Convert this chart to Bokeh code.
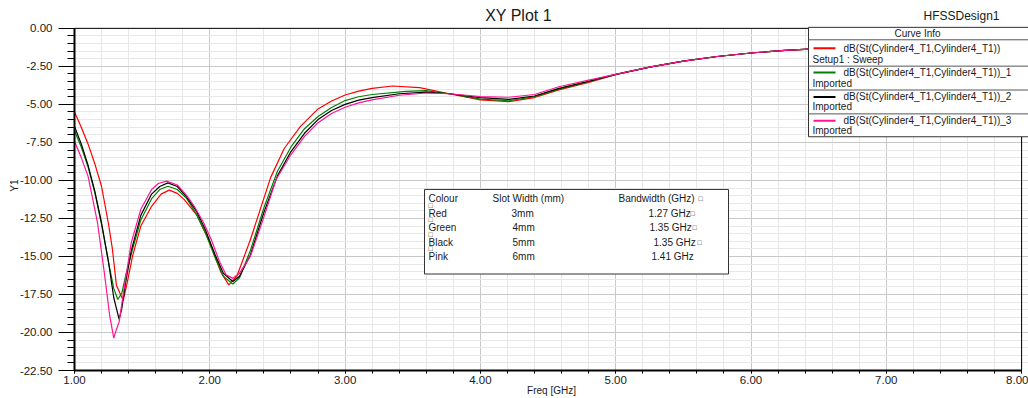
from math import pi
from bokeh.plotting import figure
from bokeh.models import (Range1d, SingleIntervalTicker, PrintfTickFormatter, Label)
from bokeh.embed import file_html
from bokeh.resources import INLINE

# ---------------- data ----------------
red_f = [1.00, 1.05, 1.10, 1.15, 1.20, 1.25, 1.28, 1.31, 1.36, 1.39, 1.43, 1.49, 1.57, 1.64, 1.70,
         1.76, 1.81, 1.91, 2.01, 2.08, 2.14, 2.20, 2.30, 2.45, 2.55, 2.67, 2.80, 2.90, 3.00, 3.10,
         3.20, 3.35, 3.55, 3.77, 4.00, 4.21, 4.40, 4.58, 4.80, 5.00, 5.25, 5.50, 5.75, 6.00, 6.25,
         6.50, 7.00, 7.50, 8.00]
red_v = [-5.5, -6.5, -7.6, -8.9, -10.4, -12.8, -14.5, -16.9, -17.9, -16.7, -14.95, -13.0, -11.7, -10.9, -10.64,
         -10.85, -11.25, -12.35, -14.3, -16.0, -16.87, -16.3, -13.9, -9.8, -7.9, -6.45, -5.3, -4.78, -4.38, -4.13,
         -3.95, -3.79, -3.9, -4.3, -4.7, -4.82, -4.55, -4.05, -3.55, -3.05, -2.55, -2.15, -1.85, -1.62, -1.45,
         -1.33, -1.2, -1.1, -1.05]

green_f = [1.00, 1.05, 1.10, 1.15, 1.20, 1.25, 1.29, 1.32, 1.35, 1.38, 1.43, 1.49, 1.57, 1.63, 1.69,
           1.76, 1.83, 1.90, 1.97, 2.04, 2.10, 2.17, 2.22, 2.30, 2.40, 2.50, 2.60, 2.70, 2.80, 2.90,
           3.00, 3.10, 3.20, 3.45, 3.60, 3.77, 4.00, 4.21, 4.40, 4.58, 4.80, 5.00, 5.25, 5.50, 5.75,
           6.00, 6.25, 6.50, 7.00, 7.50, 8.00]
green_v = [-6.75, -7.8, -9.1, -10.8, -12.9, -15.3, -17.1, -17.83, -17.4, -16.2, -14.5, -12.6, -11.2, -10.6, -10.38,
           -10.6, -11.2, -12.2, -13.5, -15.1, -16.3, -16.81, -16.4, -14.6, -11.8, -9.4, -7.8, -6.6, -5.8, -5.2,
           -4.75, -4.5, -4.35, -4.15, -4.1, -4.3, -4.65, -4.76, -4.5, -4.0, -3.5, -3.03, -2.55, -2.15, -1.85,
           -1.62, -1.45, -1.33, -1.2, -1.1, -1.05]

black_f = [1.00, 1.05, 1.10, 1.15, 1.20, 1.25, 1.29, 1.33, 1.35, 1.38, 1.42, 1.49, 1.57, 1.63, 1.69,
           1.76, 1.83, 1.90, 1.97, 2.04, 2.10, 2.17, 2.22, 2.30, 2.40, 2.50, 2.60, 2.70, 2.80, 2.90,
           3.00, 3.10, 3.20, 3.40, 3.60, 3.77, 4.00, 4.21, 4.40, 4.58, 4.80, 5.00, 5.25, 5.50, 5.75,
           6.00, 6.25, 6.50, 7.00, 7.50, 8.00]
black_v = [-6.45, -7.6, -9.0, -10.7, -12.8, -15.3, -17.7, -19.14, -18.4, -16.6, -14.6, -12.3, -10.9, -10.4, -10.16,
           -10.4, -11.1, -12.0, -13.3, -14.9, -16.1, -16.65, -16.3, -14.9, -12.1, -9.7, -8.1, -6.9, -6.0, -5.4,
           -5.0, -4.72, -4.55, -4.3, -4.2, -4.3, -4.55, -4.67, -4.45, -3.95, -3.48, -3.03, -2.55, -2.15, -1.85,
           -1.62, -1.45, -1.33, -1.2, -1.1, -1.05]

pink_f = [1.00, 1.05, 1.10, 1.17, 1.22, 1.26, 1.29, 1.31, 1.33, 1.37, 1.42, 1.49, 1.57, 1.62, 1.68,
          1.76, 1.83, 1.885, 1.95, 2.01, 2.07, 2.12, 2.17, 2.22, 2.30, 2.40, 2.49, 2.60, 2.70, 2.80,
          2.90, 3.00, 3.10, 3.20, 3.40, 3.60, 3.77, 4.00, 4.21, 4.40, 4.58, 4.80, 5.00, 5.25, 5.50,
          5.75, 6.00, 6.25, 6.50, 7.00, 7.50, 8.00]
pink_v = [-7.43, -8.5, -9.72, -12.77, -16.04, -18.88, -20.36, -19.8, -19.3, -16.9, -14.08, -11.9, -10.6, -10.2, -10.05,
          -10.3, -11.0, -11.7, -12.7, -13.87, -15.3, -16.2, -16.44, -16.1, -15.0, -12.4, -9.94, -8.3, -7.1, -6.2,
          -5.6, -5.19, -4.9, -4.7, -4.4, -4.25, -4.3, -4.49, -4.53, -4.35, -3.84, -3.4, -3.03, -2.55, -2.15,
          -1.85, -1.62, -1.45, -1.33, -1.2, -1.1, -1.05]

curve_names = ["dB(St(Cylinder4_T1,Cylinder4_T1))",
               "dB(St(Cylinder4_T1,Cylinder4_T1))_1",
               "dB(St(Cylinder4_T1,Cylinder4_T1))_2",
               "dB(St(Cylinder4_T1,Cylinder4_T1))_3"]
curve_sources = ["Setup1 : Sweep", "Imported", "Imported", "Imported"]
curve_colors = ["#ff0000", "#008000", "#000000", "#ff1493"]

table_header = ["Colour", "Slot Width (mm)", "Bandwidth (GHz)"]
table_colour = ["Red", "Green", "Black", "Pink"]
table_width = ["3mm", "4mm", "5mm", "6mm"]
table_bw = ["1.27 GHz", "1.35 GHz", "1.35 GHz", "1.41 GHz"]

# ---------------- layout ----------------
W, H = 1028, 398
L, B = 74, 26
PXG = 135.3      # px per GHz
PYU = 15.29      # px per dB
x_end = 1 + (W - L) / PXG
y_top = 28 / PYU          # frame reaches the top of the canvas

FONT = "Liberation Sans"

p = figure(width=W, height=H, output_backend="svg", toolbar_location=None,
           x_range=Range1d(1.0, x_end), y_range=Range1d(-22.5, y_top),
           min_border_left=L, min_border_right=0, min_border_top=0, min_border_bottom=B,
           title=None)
p.outline_line_color = None
p.background_fill_color = "white"
p.border_fill_color = "white"


def X(px):
    return 1 + (px - L) / PXG


def Y(py):
    return -(py - 28) / PYU


# axes
xa = p.xaxis[0]
ya = p.yaxis[0]
xa.bounds = (1.0, 8.0)
ya.bounds = (-22.5, 0.0)
xa.ticker = SingleIntervalTicker(interval=1, num_minor_ticks=5)
ya.ticker = SingleIntervalTicker(interval=2.5, num_minor_ticks=5)
xa.formatter = PrintfTickFormatter(format="%.2f")
ya.formatter = PrintfTickFormatter(format="%.2f")
for ax in (xa, ya):
    ax.axis_line_color = "black"
    ax.axis_line_width = 2
    ax.major_tick_line_color = "black"
    ax.minor_tick_line_color = "black"
    ax.major_tick_in = 0
    ax.minor_tick_in = 0
    ax.major_label_text_font = FONT
    ax.major_label_text_font_size = "11.5px"
    ax.major_label_text_color = "#1a1a1a"
    ax.axis_label_text_font = FONT
    ax.axis_label_text_font_size = "10px"
    ax.axis_label_text_font_style = "normal"
    ax.axis_label_text_color = "#1a1a1a"
xa.axis_label = "Freq [GHz]"
ya.axis_label = "Y1"
xa.major_tick_out = 3
xa.minor_tick_out = 3
xa.major_label_standoff = 2
xa.axis_label_standoff = -2
ya.major_tick_out = 16
ya.minor_tick_out = 7
ya.major_label_standoff = 6
ya.axis_label_standoff = -3

# grids
for g in (p.xgrid[0], p.ygrid[0]):
    g.grid_line_color = "#c8c8c8"
    g.grid_line_width = 1
    g.minor_grid_line_color = "#e8e8e8"
    g.minor_grid_line_width = 1

# curves
series = [(red_f, red_v), (green_f, green_v), (black_f, black_v), (pink_f, pink_v)]
for (fx, fy), col in zip(series, curve_colors):
    p.line(fx, fy, line_color=col, line_width=1.2)

# white band above the plotting area (title strip)
p.quad(left=[X(60)], right=[X(1040)], top=[Y(-5)], bottom=[0.0],
       fill_color="white", line_color=None)

# frame borders (top and right)
p.segment(x0=[1.0], y0=[0.0], x1=[8.0], y1=[0.0], line_color="black", line_width=1)
p.segment(x0=[8.0], y0=[0.0], x1=[8.0], y1=[-22.5], line_color="black", line_width=1)

# ---------------- Curve Info legend box ----------------
p.quad(left=[X(808)], right=[X(1040)], top=[Y(27)], bottom=[Y(137)],
       fill_color="white", line_color="#333333", line_width=1)
sep_y = [Y(39.5), Y(66), Y(90), Y(114)]
p.segment(x0=[X(808)] * 4, y0=sep_y, x1=[X(1040)] * 4, y1=sep_y,
          line_color="#555555", line_width=1)
row_y = [48, 72.5, 97, 121]
sub_y = [59, 83, 107, 131]
p.segment(x0=[X(813)] * 4, y0=[Y(v) for v in row_y], x1=[X(835)] * 4, y1=[Y(v) for v in row_y],
          line_color=curve_colors, line_width=2)

# ---------------- table box ----------------
p.quad(left=[X(424)], right=[X(728)], top=[Y(190)], bottom=[Y(275)],
       fill_color="white", line_color="#333333", line_width=1)


def lab(px, py, text, size="10px", align="left", angle=0.0, color="#1a1a1a"):
    p.add_layout(Label(x=X(px), y=Y(py), text=text, text_font=FONT, text_font_size=size,
                       text_align=align, text_baseline="middle", angle=angle,
                       text_color=color))


# titles
lab(518, 15, "XY Plot 1", size="16px", align="center")
lab(923, 16, "HFSSDesign1", size="12px")

# legend texts
lab(917, 33, "Curve Info", align="center")
for i in range(4):
    lab(843, row_y[i], curve_names[i])
    lab(812, sub_y[i], curve_sources[i])

# table texts
lab(428, 199, table_header[0])
lab(492, 199, table_header[1])
lab(618, 199, table_header[2])
lab(698, 199, "\u25a1", size="7px")
rows_y = [214, 228, 243, 257]
w_x = [511, 512, 512, 512]
bw_x = [648, 649, 653, 651]
sq_after = [690, 692, 697, None]
for i in range(4):
    lab(428, rows_y[i], table_colour[i])
    lab(w_x[i], rows_y[i], table_width[i])
    lab(bw_x[i], rows_y[i], table_bw[i])
    lab(428, rows_y[i] - 8, "\u25a1", size="7px")
    if sq_after[i] is not None:
        lab(sq_after[i], rows_y[i], "\u25a1", size="7px")

open("out.html", "w").write(file_html(p, INLINE))
